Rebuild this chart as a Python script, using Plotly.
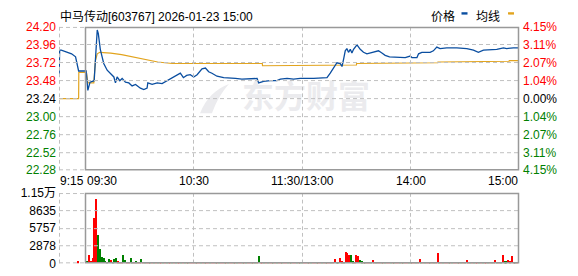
import math
import plotly.graph_objects as go

W, H = 578, 276
FONT = "Liberation Sans, Noto Sans CJK SC, Arial, sans-serif"
CJK = "Noto Sans CJK SC, Liberation Sans, sans-serif"

# ---------------- data ----------------
title_text = "中马传动[603767] 2026-01-23 15:00"
legend_names = ["价格", "均线"]
watermark_text = "东方财富"
prev_close = 23.24

price_ticks = [22.28, 22.52, 22.76, 23.00, 23.24, 23.48, 23.72, 23.96, 24.20]
price_tick_text = ["22.28", "22.52", "22.76", "23.00", "23.24", "23.48", "23.72", "23.96", "24.20"]
pct_tick_text = ["4.15%", "3.11%", "2.07%", "1.04%", "0.00%", "1.04%", "2.07%", "3.11%", "4.15%"]

vol_ticks = [0, 2878, 5757, 8635, 11514]
vol_tick_text = ["0", "2878", "5757", "8635", "1.15万"]

time_ticks = [-14.67, 0, 60, 120, 180, 240]
time_tick_text = ["9:15", "09:30", "10:30", "11:30/13:00", "14:00", "15:00"]

# minutes from 09:30 (negative = pre-market auction)
price_min = [
    -14.6, -14.3, -13.4, -7.7, -5.5, -3.8, 0.4, 1.3, 2.5, 3.7,
    4.8, 5.6, 6.5, 7.1, 7.6, 8.2, 9.0, 10.1, 12.0, 13.8,
    15.7, 16.6, 17.5, 19.0, 20.3, 22.1, 24.0, 25.8, 27.7, 30.4,
    32.3, 34.1, 34.5, 36.9, 39.7, 42.4, 45.2, 47.9, 49.8, 52.5,
    54.2, 56.0, 58.0, 59.9, 61.8, 63.2, 64.5, 66.4, 68.2, 70.0,
    72.8, 76.5, 80.2, 83.0, 86.6, 91.3, 95.0, 95.9, 98.6, 102.3,
    106.0, 107.9, 111.6, 115.2, 118.9, 126.3, 133.7, 135.5, 137.3, 139.2,
    141.0, 142.0, 142.9, 143.8, 144.7, 145.6, 146.6, 147.5, 148.4, 150.3,
    152.1, 153.9, 155.8, 157.6, 159.5, 162.2, 164.1, 165.9, 168.3, 170.5,
    172.5, 174.2, 177.0, 179.8, 180.7, 183.5, 184.4, 186.2, 190.8, 192.6,
    194.5, 196.3, 200.0, 205.6, 211.1, 214.8, 217.5, 220.3, 224.0, 227.7,
    231.4, 233.2, 236.9, 240.0,
]
price_val = [
    23.57, 23.89, 23.89, 23.84, 23.80, 23.61, 23.61, 23.35, 23.46, 23.47,
    23.48, 23.80, 24.16, 24.11, 23.97, 23.90, 23.82, 23.71, 23.62, 23.58,
    23.53, 23.45, 23.53, 23.48, 23.51, 23.46, 23.45, 23.41, 23.43, 23.38,
    23.36, 23.38, 23.45, 23.43, 23.45, 23.44, 23.48, 23.51, 23.54, 23.58,
    23.52, 23.55, 23.56, 23.53, 23.56, 23.60, 23.64, 23.65, 23.60, 23.58,
    23.54, 23.52, 23.52, 23.51, 23.50, 23.50, 23.51, 23.45, 23.47, 23.48,
    23.48, 23.50, 23.51, 23.50, 23.51, 23.51, 23.52, 23.58, 23.65, 23.72,
    23.71, 23.67, 23.77, 23.88, 23.91, 23.86, 23.90, 23.85, 23.90, 23.96,
    23.90, 23.86, 23.84, 23.85, 23.86, 23.88, 23.85, 23.82, 23.80, 23.80,
    23.79, 23.80, 23.79, 23.81, 23.79, 23.79, 23.84, 23.86, 23.86, 23.88,
    23.93, 23.91, 23.92, 23.92, 23.91, 23.89, 23.86, 23.89, 23.90, 23.90,
    23.92, 23.91, 23.92, 23.92,
]

avg_min = [-14.6, -3.8, -3.7, 0.5, 1.3, 4.6, 5.5, 6.5, 7.9, 14, 20, 26, 32, 40, 48,
           97.9, 98.0, 136.3, 136.4, 150.0, 150.1, 162.0, 162.1, 195.0, 195.1,
           216.0, 216.1, 234.5, 234.6, 240]
avg_val = [23.24, 23.24, 23.59, 23.59, 23.45, 23.45, 23.75, 23.84, 23.86, 23.85,
           23.83, 23.80, 23.76, 23.73, 23.71, 23.71, 23.68, 23.68, 23.69, 23.69,
           23.71, 23.71, 23.72, 23.72, 23.73, 23.73, 23.74, 23.74, 23.75, 23.75]

# volume per minute, 09:30 (0) .. 15:00 (240)
vol = [
    0, 400, 1300, 400, 780, 7370, 10580, 4670, 2330, 1040, 940, 360, 150, 620, 520, 250, 620, 780, 310, 150,
    150, 1300, 470, 150, 150, 940, 150, 150, 310, 150, 150, 620, 160, 120, 150, 140, 130, 160, 120, 150,
    130, 140, 160, 120, 150, 130, 140, 120, 160, 130, 150, 120, 140, 130, 160, 150, 120, 140, 130, 150,
    140, 120, 150, 160, 130, 140, 150, 120, 130, 160, 140, 150, 120, 130, 140, 150, 160, 120, 130, 140,
    150, 130, 120, 140, 160, 150, 130, 140, 120, 150, 140, 160, 130, 120, 150, 140, 1240, 130, 150, 120,
    140, 160, 130, 150, 120, 140, 130, 150, 160, 120, 140, 130, 150, 120, 160, 140, 130, 150, 120, 140,
    130, 150, 140, 120, 160, 130, 140, 150, 120, 130, 150, 140, 160, 130, 120, 150, 140, 130, 620, 130,
    150, 780, 310, 160, 1870, 1710, 1300, 1400, 310, 160, 1400, 1240, 470, 310, 150, 140, 130, 160, 150, 470,
    140, 130, 150, 120, 160, 140, 130, 150, 120, 140, 160, 130, 150, 140, 120, 130, 150, 140, 160, 130,
    150, 120, 140, 130, 160, 620, 140, 130, 150, 120, 140, 160, 130, 150, 140, 1710, 130, 120, 150, 140,
    160, 130, 140, 150, 120, 130, 160, 140, 150, 130, 120, 470, 140, 150, 130, 160, 120, 140, 150, 130,
    140, 160, 130, 120, 150, 140, 130, 470, 150, 140, 160, 1400, 310, 310, 470, 310, 1240, 200, 130, 150,
    1090,
]
vol_dir = ("ggrrrrrgggggggrgggrr" "rggrrggrgrrgrgrrgrgr" "grrgrgrrgrgrrgrgrgrr" "rgrrgrgrrgrrgrgrrgrg"
           "rrgrgrrgrgrrgrgrgrrg" "rgrrgrgrrgrrgrgrrgrg" "grrgrgrrgrrgrgrrgrrg" "grrgrrrggrrrggrgrrgr"
           "rgrrgrgrrgrgrrgrgrrg" "grrgrrgrgrrgrgrrgrgr" "rgrgrrgrgrgrrgrgrrgr" "grrgrgrrgrgrggrrrrgr" "g")
pre_vol_min = [-4]
pre_vol = [300]

assert len(price_min) == len(price_val)
assert len(avg_min) == len(avg_val)
assert len(vol) == 241 and len(vol_dir) == 241

# ---------------- styling ----------------
RED, GREEN, BLACK = "#ff0000", "#008000", "#000000"
BLUE_LINE, AVG_LINE = "#0a4ea0", "#e2a41e"
GRID = "#c0c0c0"
BORDER = "#999999"
DASH_ON, DASH_OFF = 4, 3

X0, X1 = 59.0, 519.0           # plot area, px
MAIN_T, MAIN_B = 21.0, 172.0
VOL_T, VOL_B = 196.0, 270.0
XR = [time_ticks[0], 240]
PR = [price_ticks[0], price_ticks[-1]]
VR = [0, vol_ticks[-1]]


def px(xp):
    return xp / W


def py(yp):
    return 1 - yp / H


def p_of_x(m):
    return X0 + (m - XR[0]) / (XR[1] - XR[0]) * (X1 - X0)


def p_main(v):
    return MAIN_T + (PR[1] - v) / (PR[1] - PR[0]) * (MAIN_B - MAIN_T)


def p_vol(v):
    return VOL_T + (VR[1] - v) / (VR[1] - VR[0]) * (VOL_B - VOL_T)


def snap(p, lo, hi):
    r = math.floor(p)
    r = max(int(lo), min(int(hi) - 1, r))
    return r + 0.5


def lab_color(v):
    if abs(v - prev_close) < 1e-9:
        return BLACK
    return RED if v > prev_close else GREEN


def dashes(a, b):
    out = []
    s = a
    while s < b:
        out.append((s, min(s + DASH_ON, b)))
        s += DASH_ON + DASH_OFF
    return out


left_text = [f'<span style="color:{lab_color(v)}">{t}</span>' for v, t in zip(price_ticks, price_tick_text)]
right_text = [f'<span style="color:{lab_color(v)}">{t}</span>' for v, t in zip(price_ticks, pct_tick_text)]

fig = go.Figure()

# watermark (behind the lines)
fig.add_trace(go.Scatter(x=[XR[0] + (306 - X0) / (X1 - X0) * (XR[1] - XR[0])],
                         y=[PR[1] - (98 - MAIN_T) / (MAIN_B - MAIN_T) * (PR[1] - PR[0])],
                         mode="text", text=[f"<b>{watermark_text}</b>"],
                         textfont=dict(family=CJK, size=32, color="#ebebee"),
                         xaxis="x", yaxis="y", hoverinfo="skip", showlegend=False))

fig.add_trace(go.Scatter(x=avg_min, y=avg_val, mode="lines", line=dict(color=AVG_LINE, width=1.2),
                         xaxis="x", yaxis="y", showlegend=False))
fig.add_trace(go.Scatter(x=price_min, y=price_val, mode="lines", line=dict(color=BLUE_LINE, width=1.3),
                         xaxis="x", yaxis="y", showlegend=False))
fig.add_trace(go.Scatter(x=[XR[0]], y=[prev_close], mode="markers", marker=dict(opacity=0),
                         xaxis="x", yaxis="y2", showlegend=False, hoverinfo="skip"))

bar_colors = [RED if c == "r" else GREEN for c in vol_dir]
fig.add_trace(go.Bar(x=list(range(241)), y=vol, marker=dict(color=bar_colors, line=dict(width=0)),
                     width=0.6, xaxis="x2", yaxis="y3", showlegend=False))
fig.add_trace(go.Bar(x=pre_vol_min, y=pre_vol, marker=dict(color=RED, line=dict(width=0)),
                     width=0.6, xaxis="x2", yaxis="y3", showlegend=False))

xcommon = dict(domain=[px(X0), px(X1)], range=XR, showticklabels=False, ticks="",
               showgrid=False, zeroline=False, showline=False, fixedrange=True)

# dashed grid: every dash is its own single-segment line shape (pixel-snapped)
bx0 = snap(p_of_x(0), X0, X1)
grid_cols = [snap(p_of_x(m), X0, X1) for m in [XR[0], 60, 120, 180]]
panels = [
    ([snap(p_main(v), MAIN_T, MAIN_B) for v in price_ticks], MAIN_T, MAIN_B),
    ([snap(p_vol(v), VOL_T, VOL_B) for v in vol_ticks], VOL_T, VOL_B),
]
shapes = []
gl = dict(color=GRID, width=1)
for rows, top, bot in panels:
    for i, r in enumerate(rows):
        edge = (i == 0 or i == len(rows) - 1)
        x_end = bx0 if edge else X1
        for s, e in dashes(X0, x_end):
            shapes.append(dict(type="line", xref="paper", yref="paper", x0=px(s), x1=px(e),
                               y0=py(r), y1=py(r), line=gl, layer="above"))
    for c in grid_cols:
        for s, e in dashes(top, bot):
            shapes.append(dict(type="line", xref="paper", yref="paper", x0=px(c), x1=px(c),
                               y0=py(s), y1=py(e), line=gl, layer="above"))

# watermark logo swoosh
lx = [200, 206, 216, 229, 222, 216, 212]
ly = [112, 96, 86, 81, 89, 100, 112]
path = (f"M {px(lx[0])} {py(ly[0])} C {px(lx[1])} {py(ly[1])}, {px(lx[2])} {py(ly[2])}, {px(lx[3])} {py(ly[3])} "
        f"C {px(lx[4])} {py(ly[4])}, {px(lx[5])} {py(ly[5])}, {px(lx[6])} {py(ly[6])} Z")
shapes.append(dict(type="path", xref="paper", yref="paper", path=path, fillcolor="#ebebee",
                   line=dict(width=0), layer="below"))

# solid borders around the continuous-trading area
for top, bot in [(MAIN_T, MAIN_B), (VOL_T, VOL_B)]:
    shapes.append(dict(type="rect", xref="paper", yref="paper", x0=px(bx0), x1=px(X1 - 0.5),
                       y0=py(bot - 0.5), y1=py(top + 0.5),
                       line=dict(color=BORDER, width=1.5), layer="above"))

# legend markers
shapes.append(dict(type="rect", xref="paper", yref="paper", x0=px(461.5), x1=px(467.5), y0=py(8), y1=py(5.5),
                   line=dict(width=0), fillcolor=BLUE_LINE))
shapes.append(dict(type="rect", xref="paper", yref="paper", x0=px(508), x1=px(514), y0=py(8), y1=py(5.5),
                   line=dict(width=0), fillcolor=AVG_LINE))

annotations = []
anchors = ["left", "left", "center", "center", "center", "right"]
for v, t, a in zip(time_ticks, time_tick_text, anchors):
    annotations.append(dict(x=v, xref="x", y=py(183), yref="paper", text=t, showarrow=False,
                            xanchor=a, yanchor="middle", font=dict(family=FONT, size=12, color=BLACK),
                            borderpad=0))
annotations.append(dict(x=px(59), y=py(10), xref="paper", yref="paper", text=title_text, showarrow=False,
                        xanchor="left", yanchor="middle", font=dict(family=FONT, size=12, color=BLACK),
                        borderpad=0))
annotations.append(dict(x=px(443), y=py(9), xref="paper", yref="paper", text=legend_names[0], showarrow=False,
                        xanchor="center", yanchor="middle", font=dict(family=CJK, size=12, color=BLACK),
                        borderpad=0))
annotations.append(dict(x=px(487.5), y=py(9), xref="paper", yref="paper", text=legend_names[1], showarrow=False,
                        xanchor="center", yanchor="middle", font=dict(family=CJK, size=12, color=BLACK),
                        borderpad=0))

fig.update_layout(
    width=W, height=H, margin=dict(l=0, r=0, t=0, b=0),
    paper_bgcolor="white", plot_bgcolor="rgba(0,0,0,0)",
    font=dict(family=FONT, size=12, color=BLACK),
    bargap=0, showlegend=False,
    xaxis=dict(anchor="y", **xcommon),
    xaxis2=dict(anchor="y3", **xcommon),
    yaxis=dict(domain=[py(MAIN_B), py(MAIN_T)], range=PR,
               tickvals=price_ticks, ticktext=left_text, ticks="", ticklabelstandoff=2,
               showgrid=False, zeroline=False,
               tickfont=dict(family=FONT, size=12), anchor="x"),
    yaxis2=dict(overlaying="y", side="right", anchor="x", range=PR, ticklabelstandoff=3,
                tickvals=price_ticks, ticktext=right_text, ticks="", showgrid=False, zeroline=False,
                tickfont=dict(family=FONT, size=12)),
    yaxis3=dict(domain=[py(VOL_B), py(VOL_T)], range=VR, tickvals=vol_ticks, ticklabelstandoff=2,
                ticktext=vol_tick_text, ticks="", showgrid=False, zeroline=False,
                tickfont=dict(family=FONT, size=12, color=BLACK), anchor="x2"),
    shapes=shapes,
    annotations=annotations,
)

fig.write_html("out.html")
